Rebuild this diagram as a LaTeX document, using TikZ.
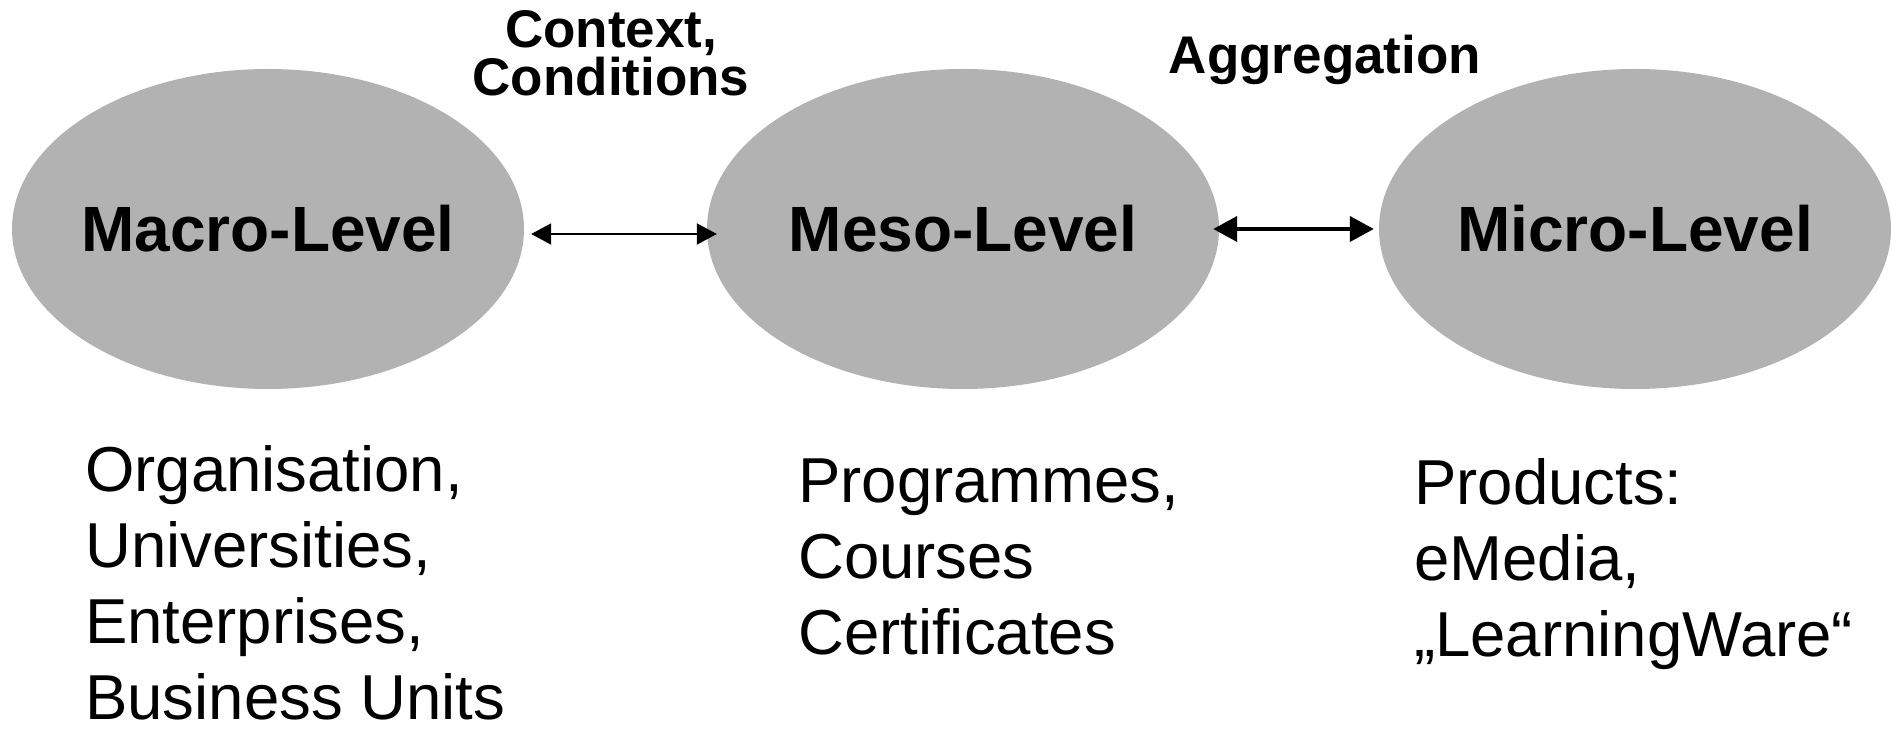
\documentclass[tikz,border=0pt]{standalone}
\usepackage{fontspec}
\setmainfont{Liberation Sans}
\usetikzlibrary{shapes.geometric,arrows.meta}
\definecolor{levelgray}{RGB}{178,178,178}

\begin{document}
\begin{tikzpicture}[x=1pt,y=1pt]
  \tikzstyle{level}=[ellipse,fill=levelgray,minimum width=512pt,minimum height=320pt,inner ysep=0pt,inner xsep=-30pt,font=\fontsize{64}{75}\selectfont\bfseries]
  \tikzstyle{toplabel}=[inner sep=0pt,align=center,font=\fontsize{53}{48}\selectfont\bfseries]
  \tikzstyle{items}=[inner sep=0pt,align=left,anchor=base west,font=\fontsize{63.5}{76}\selectfont]
  \useasboundingbox (0,0) rectangle (1891,729);

  \node[level] (L_macro) at (268,500) {Macro-Level};
  \node[level] (L_meso) at (963,500) {Meso-Level};
  \node[level] (L_micro) at (1635,500) {Micro-Level};

  \node[toplabel,anchor=base] (T_context) at (611,633) {Context,\\Conditions};
  \node[toplabel,anchor=base] (T_aggr) at (1325,655) {Aggregation};

  \draw[{Triangle[length=20pt,width=21pt]}-{Triangle[length=20pt,width=21pt]},line width=2pt]
    ([xshift=7pt,yshift=-5pt]L_macro.east) -- ([xshift=10pt,yshift=-5pt]L_meso.west);
  \draw[{Triangle[length=24pt,width=25pt]}-{Triangle[length=24pt,width=25pt]},line width=4pt]
    ([xshift=-6pt]L_meso.east) -- ([xshift=-5pt]L_micro.west);

  \node[items] (I_macro) at (85,10) {Organisation,\\Universities,\\Enterprises,\\Business Units};
  \node[items] (I_meso) at (798,75) {Programmes,\\Courses\\Certificates};
  \node[items] (I_micro) at (1414,73) {Products:\\eMedia,\\„LearningWare“};

\end{tikzpicture}
\end{document}
